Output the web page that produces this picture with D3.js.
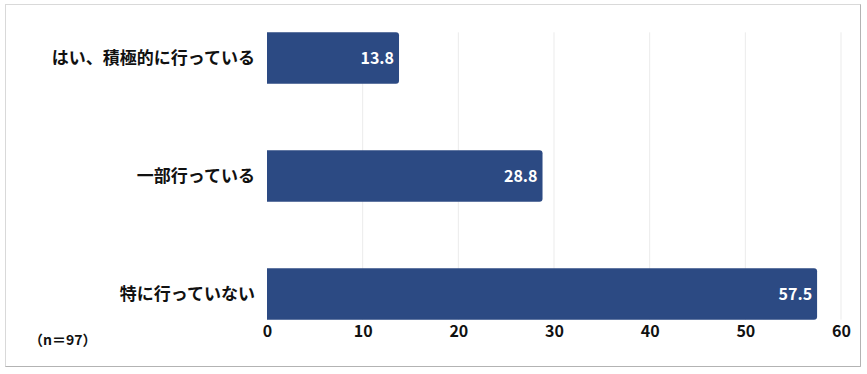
<!DOCTYPE html>
<html>
<head>
<meta charset="utf-8">
<script src="https://cdn.jsdelivr.net/npm/d3@7"></script>
<style>
  body { margin: 0; background: #fff; }
  text { font-family: "Noto Sans CJK JP", "Noto Sans", sans-serif; font-weight: bold; }
</style>
</head>
<body>
<div id="chart"></div>
<script>
// chart data
var categories = ["はい、積極的に行っている", "一部行っている", "特に行っていない"]
var values = [13.8, 28.8, 57.5]
var xTicks = [0, 10, 20, 30, 40, 50, 60]
var noteText = "（n＝97）"

var svgWidth = 867
var svgHeight = 374

var svg = d3.select("#chart")
    .append("svg")
    .attr("width", svgWidth)
    .attr("height", svgHeight)

// frame
svg.append("rect")
    .attr("x", 5.5).attr("y", 4.5)
    .attr("width", 855).attr("height", 362)
    .attr("fill", "#fff")
    .attr("stroke", "#d9d9d9")
svg.append("path")
    .attr("d", "M860.5,4.5 V366.5 H5.5")
    .attr("fill", "none")
    .attr("stroke", "#b3b3b3")

var xScale = d3.scaleLinear()
    .domain([0, 60])
    .range([267, 841])

var yScale = d3.scaleBand()
    .domain(categories)
    .range([-1, 353])
    .paddingInner(0.565)
    .paddingOuter(0.2825)

var barTop = yScale(categories[0])
var barBottom = yScale(categories[categories.length - 1]) + yScale.bandwidth()

// gridlines
svg.append("g")
    .selectAll("line")
    .data(xTicks.slice(1))
    .enter()
    .append("line")
    .attr("x1", d => xScale(d))
    .attr("x2", d => xScale(d))
    .attr("y1", barTop)
    .attr("y2", barBottom)
    .attr("stroke", "#ebebeb")
    .attr("stroke-width", 1)

// bars, rounded on the right end only
var r = 3
svg.append("g")
    .selectAll("path")
    .data(values)
    .enter()
    .append("path")
    .attr("fill", "#2c4a83")
    .attr("d", (d, i) => {
        var x0 = xScale(0), x1 = xScale(d)
        var y0 = yScale(categories[i]), y1 = y0 + yScale.bandwidth()
        return `M${x0},${y0} H${x1 - r} Q${x1},${y0} ${x1},${y0 + r} V${y1 - r} Q${x1},${y1} ${x1 - r},${y1} H${x0} Z`
    })

// value labels
svg.append("g")
    .selectAll("text")
    .data(values)
    .enter()
    .append("text")
    .attr("x", d => xScale(d) - 5)
    .attr("y", (d, i) => yScale(categories[i]) + yScale.bandwidth() / 2)
    .attr("dy", "0.36em")
    .attr("text-anchor", "end")
    .attr("fill", "#fff")
    .attr("font-size", 16)
    .text(d => d.toFixed(1))

// category labels
svg.append("g")
    .selectAll("text")
    .data(categories)
    .enter()
    .append("text")
    .attr("x", 255)
    .attr("y", d => yScale(d) + yScale.bandwidth() / 2)
    .attr("dy", "0.36em")
    .attr("text-anchor", "end")
    .attr("fill", "#111")
    .attr("font-size", 17)
    .text(d => d)

// x axis
var xAxis = d3.axisBottom(xScale).tickValues(xTicks).tickSize(0).tickPadding(0)
var axisG = svg.append("g")
    .attr("transform", "translate(0, 326)")
    .call(xAxis)
axisG.select(".domain").remove()
axisG.selectAll("text")
    .attr("font-size", 16)
    .attr("fill", "#111")
    .attr("dy", "0.71em")

// note
svg.append("text")
    .attr("x", 29)
    .attr("y", 340)
    .attr("dy", "0.36em")
    .attr("font-size", 14)
    .attr("fill", "#111")
    .text(noteText)
</script>
</body>
</html>
